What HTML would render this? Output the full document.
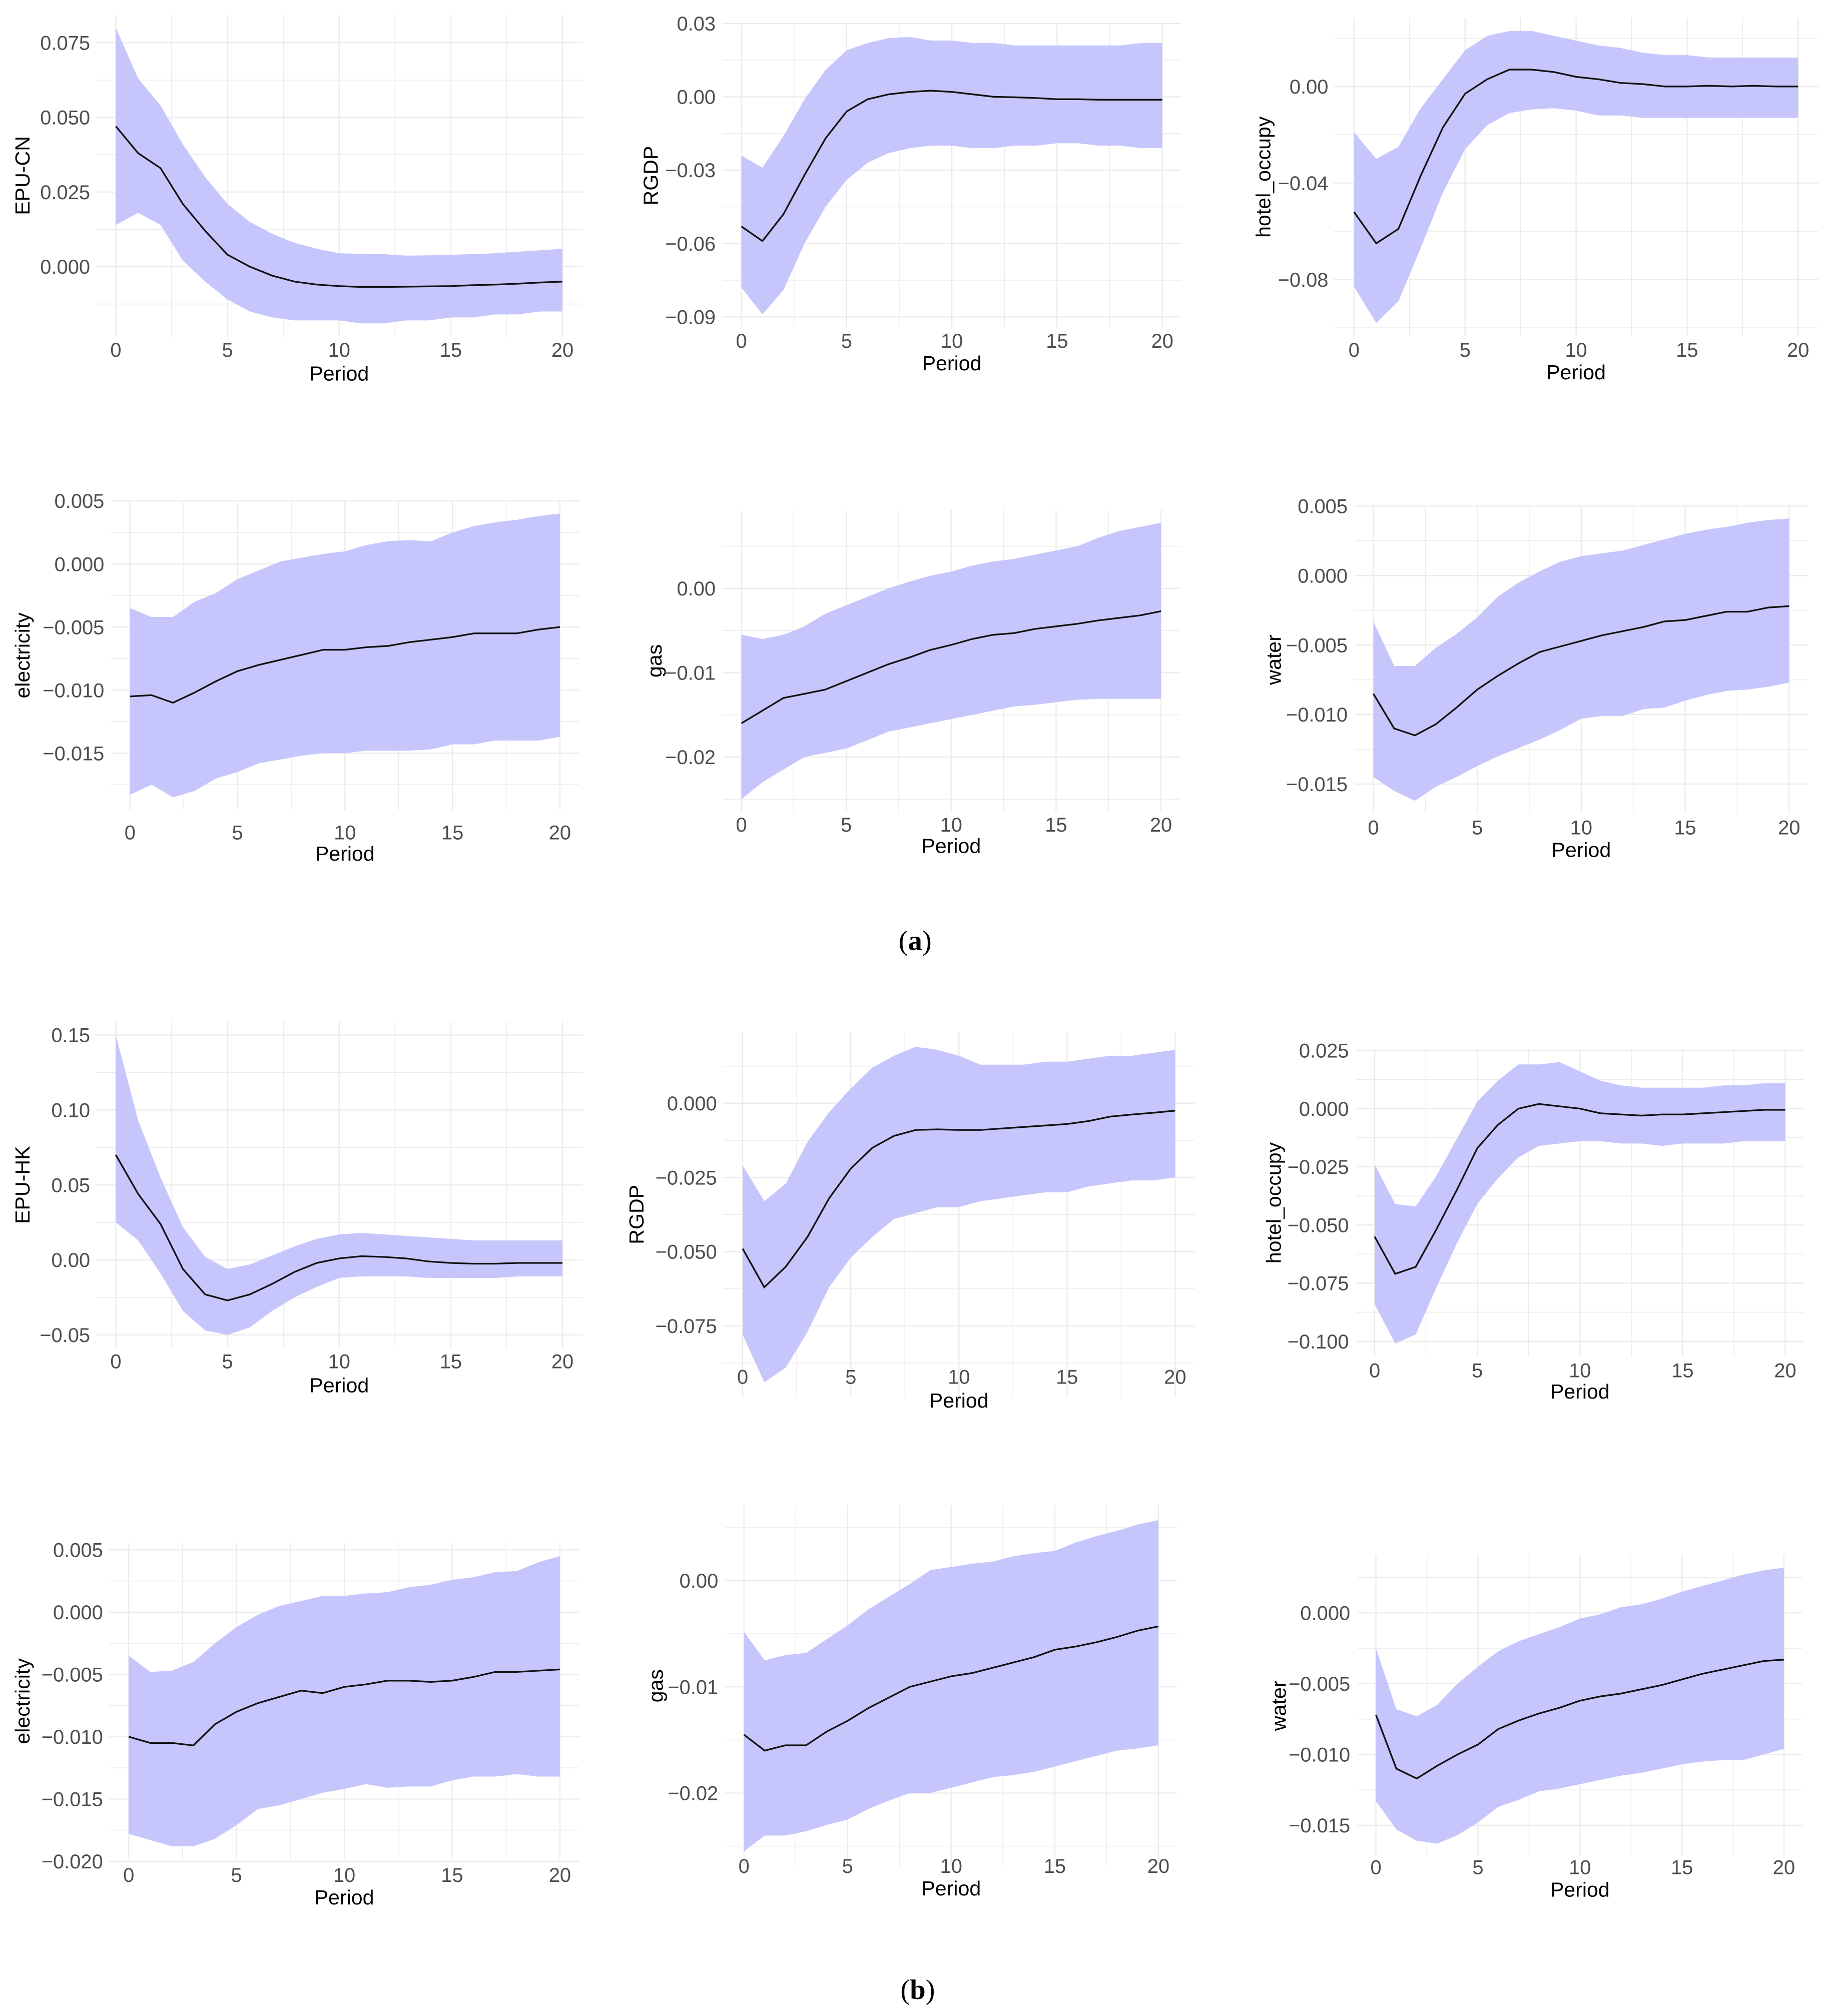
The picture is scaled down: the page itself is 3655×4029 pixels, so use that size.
<!DOCTYPE html>
<html><head><meta charset="utf-8">
<style>
html,body{margin:0;padding:0;background:#fff;}
svg{display:block;}
text{font-family:"Liberation Sans",Arial,sans-serif;}
text.serif{font-family:"Liberation Serif",serif;}
</style></head>
<body>
<svg id="fig" width="3655" height="4029" viewBox="0 0 1421 1566" xmlns="http://www.w3.org/2000/svg">
<text class="serif" x="711" y="738" text-anchor="middle" font-size="22" fill="#000">(<tspan font-weight="bold">a</tspan>)</text>
<text class="serif" x="713" y="1553" text-anchor="middle" font-size="22" fill="#000">(<tspan font-weight="bold">b</tspan>)</text>
</svg>
<script>
// ---- data arrays (periods 0..20) ----
const periods = [0,1,2,3,4,5,6,7,8,9,10,11,12,13,14,15,16,17,18,19,20];
const xTicks = [0,5,10,15,20];

const a1Mean = [.047,.038,.033,.021,.012,.004,.000,-.003,-.005,-.006,-.0065,-.0068,-.0068,-.0067,-.0066,-.0065,-.0062,-.006,-.0057,-.0053,-.005];
const a1Up   = [.080,.063,.054,.041,.030,.021,.015,.011,.008,.006,.0045,.0043,.0042,.0037,.0038,.004,.0042,.0045,.005,.0055,.006];
const a1Lo   = [.014,.018,.014,.002,-.005,-.011,-.015,-.017,-.018,-.018,-.018,-.019,-.019,-.018,-.018,-.017,-.017,-.016,-.016,-.015,-.015];
const a1Ticks = [0.075,0.050,0.025,0.000];
const a1Labels = ["0.075","0.050","0.025","0.000"];

const a2Mean = [-.053,-.059,-.048,-.032,-.017,-.006,-.001,.001,.002,.0025,.002,.001,0,-.0002,-.0005,-.001,-.001,-.0012,-.0012,-.0012,-.0012];
const a2Up   = [-.024,-.029,-.016,-.001,.011,.019,.022,.024,.0245,.023,.023,.022,.022,.021,.021,.021,.021,.021,.021,.022,.022];
const a2Lo   = [-.078,-.089,-.079,-.06,-.045,-.034,-.027,-.023,-.021,-.020,-.020,-.021,-.021,-.020,-.020,-.019,-.019,-.020,-.020,-.021,-.021];
const a2Ticks = [0.03,0.00,-0.03,-0.06,-0.09];
const a2Labels = ["0.03","0.00","−0.03","−0.06","−0.09"];

const a3Mean = [-.052,-.065,-.059,-.037,-.017,-.003,.003,.007,.007,.006,.004,.003,.0015,.001,0,0,.0003,0,.0003,0,0];
const a3Up   = [-.019,-.030,-.025,-.009,.003,.015,.021,.023,.023,.021,.019,.017,.016,.014,.013,.013,.012,.012,.012,.012,.012];
const a3Lo   = [-.083,-.098,-.089,-.067,-.044,-.026,-.016,-.011,-.0095,-.009,-.010,-.012,-.012,-.013,-.013,-.013,-.013,-.013,-.013,-.013,-.013];
const a3Ticks = [0.00,-0.04,-0.08];
const a3Labels = ["0.00","−0.04","−0.08"];

const a4Mean = [-.0105,-.0104,-.011,-.0102,-.0093,-.0085,-.008,-.0076,-.0072,-.0068,-.0068,-.0066,-.0065,-.0062,-.006,-.0058,-.0055,-.0055,-.0055,-.0052,-.005];
const a4Up   = [-.0035,-.0042,-.0042,-.003,-.0023,-.0012,-.0005,.0002,.0005,.0008,.001,.0015,.0018,.0019,.0018,.0025,.003,.0033,.0035,.0038,.004];
const a4Lo   = [-.0183,-.0175,-.0185,-.018,-.017,-.0165,-.0158,-.0155,-.0152,-.015,-.015,-.0148,-.0148,-.0148,-.0147,-.0143,-.0143,-.014,-.014,-.014,-.0137];
const a4Ticks = [0.005,0.000,-0.005,-0.010,-0.015];
const a4Labels = ["0.005","0.000","−0.005","−0.010","−0.015"];

const a5Mean = [-.016,-.0145,-.013,-.0125,-.012,-.011,-.010,-.009,-.0082,-.0073,-.0067,-.006,-.0055,-.0053,-.0048,-.0045,-.0042,-.0038,-.0035,-.0032,-.0027];
const a5Up   = [-.0055,-.006,-.0055,-.0045,-.003,-.002,-.001,0,.0008,.0015,.002,.0027,.0032,.0035,.004,.0045,.005,.006,.0068,.0073,.0078];
const a5Lo   = [-.025,-.023,-.0215,-.020,-.0195,-.019,-.018,-.017,-.0165,-.016,-.0155,-.015,-.0145,-.014,-.0138,-.0135,-.0132,-.0131,-.0131,-.0131,-.0131];
const a5Ticks = [0.00,-0.01,-0.02];
const a5Labels = ["0.00","−0.01","−0.02"];

const a6Mean = [-.0085,-.011,-.0115,-.0107,-.0095,-.0082,-.0072,-.0063,-.0055,-.0051,-.0047,-.0043,-.004,-.0037,-.0033,-.0032,-.0029,-.0026,-.0026,-.0023,-.0022];
const a6Up   = [-.0033,-.0065,-.0065,-.0052,-.0042,-.003,-.0015,-.0005,.0003,.001,.0014,.0016,.0018,.0022,.0026,.003,.0033,.0035,.0038,.004,.0041];
const a6Lo   = [-.0145,-.0155,-.0162,-.0152,-.0145,-.0137,-.013,-.0124,-.0118,-.0111,-.0103,-.0101,-.0101,-.0096,-.0095,-.009,-.0086,-.0083,-.0082,-.008,-.0077];
const a6Ticks = [0.005,0.000,-0.005,-0.010,-0.015];
const a6Labels = ["0.005","0.000","−0.005","−0.010","−0.015"];

const b1Mean = [.070,.044,.024,-.006,-.023,-.027,-.023,-.016,-.008,-.002,.001,.0025,.002,.001,-.001,-.002,-.0025,-.0025,-.002,-.002,-.002];
const b1Up   = [.15,.093,.055,.022,.002,-.006,-.003,.003,.009,.014,.017,.018,.017,.016,.015,.014,.013,.013,.013,.013,.013];
const b1Lo   = [.025,.013,-.009,-.034,-.047,-.05,-.045,-.034,-.025,-.018,-.012,-.011,-.011,-.011,-.012,-.012,-.012,-.012,-.011,-.011,-.011];
const b1Ticks = [0.15,0.10,0.05,0.00,-0.05];
const b1Labels = ["0.15","0.10","0.05","0.00","−0.05"];

const b2Mean = [-.049,-.062,-.055,-.045,-.032,-.022,-.015,-.011,-.009,-.0088,-.009,-.009,-.0085,-.008,-.0075,-.007,-.006,-.0045,-.0038,-.0032,-.0025];
const b2Up   = [-.021,-.033,-.027,-.013,-.003,.005,.012,.016,.019,.018,.016,.013,.013,.013,.014,.014,.015,.016,.016,.017,.018];
const b2Lo   = [-.078,-.094,-.089,-.077,-.062,-.052,-.045,-.039,-.037,-.035,-.035,-.033,-.032,-.031,-.030,-.030,-.028,-.027,-.026,-.026,-.025];
const b2Ticks = [0.000,-0.025,-0.050,-0.075];
const b2Labels = ["0.000","−0.025","−0.050","−0.075"];

const b3Mean = [-.055,-.071,-.068,-.052,-.035,-.017,-.007,0,.002,.001,0,-.002,-.0025,-.003,-.0025,-.0025,-.002,-.0015,-.001,-.0005,-.0005];
const b3Up   = [-.024,-.041,-.042,-.029,-.013,.003,.012,.019,.019,.020,.016,.012,.010,.009,.009,.009,.009,.010,.010,.011,.011];
const b3Lo   = [-.084,-.101,-.097,-.077,-.058,-.041,-.030,-.021,-.016,-.015,-.014,-.014,-.015,-.015,-.016,-.015,-.015,-.015,-.014,-.014,-.014];
const b3Ticks = [0.025,0.000,-0.025,-0.050,-0.075,-0.100];
const b3Labels = ["0.025","0.000","−0.025","−0.050","−0.075","−0.100"];

const b4Mean = [-.010,-.0105,-.0105,-.0107,-.009,-.008,-.0073,-.0068,-.0063,-.0065,-.006,-.0058,-.0055,-.0055,-.0056,-.0055,-.0052,-.0048,-.0048,-.0047,-.0046];
const b4Up   = [-.0035,-.0048,-.0047,-.004,-.0025,-.0012,-.0002,.0005,.0009,.0013,.0013,.0015,.0016,.002,.0022,.0026,.0028,.0032,.0033,.004,.0045];
const b4Lo   = [-.0178,-.0183,-.0188,-.0188,-.0182,-.0171,-.0158,-.0155,-.015,-.0145,-.0142,-.0138,-.0141,-.014,-.014,-.0135,-.0132,-.0132,-.013,-.0132,-.0132];
const b4Ticks = [0.005,0.000,-0.005,-0.010,-0.015,-0.020];
const b4Labels = ["0.005","0.000","−0.005","−0.010","−0.015","−0.020"];

const b5Mean = [-.0145,-.016,-.0155,-.0155,-.0142,-.0132,-.012,-.011,-.010,-.0095,-.009,-.0087,-.0082,-.0077,-.0072,-.0065,-.0062,-.0058,-.0053,-.0047,-.0043];
const b5Up   = [-.0048,-.0075,-.007,-.0068,-.0055,-.0042,-.0027,-.0015,-.0003,.001,.0013,.0016,.0018,.0023,.0026,.0028,.0036,.0042,.0047,.0053,.0057];
const b5Lo   = [-.0255,-.024,-.024,-.0236,-.023,-.0225,-.0215,-.0207,-.02,-.02,-.0195,-.019,-.0185,-.0183,-.018,-.0175,-.017,-.0165,-.016,-.0158,-.0155];
const b5Ticks = [0.00,-0.01,-0.02];
const b5Labels = ["0.00","−0.01","−0.02"];

const b6Mean = [-.0072,-.011,-.0117,-.0108,-.010,-.0093,-.0082,-.0076,-.0071,-.0067,-.0062,-.0059,-.0057,-.0054,-.0051,-.0047,-.0043,-.004,-.0037,-.0034,-.0033];
const b6Up   = [-.0025,-.0068,-.0073,-.0065,-.005,-.0038,-.0027,-.002,-.0015,-.001,-.0004,-.0001,.0004,.0006,.001,.0015,.0019,.0023,.0027,.003,.0032];
const b6Lo   = [-.0133,-.0153,-.0161,-.0163,-.0157,-.0148,-.0137,-.0132,-.0126,-.0124,-.0121,-.0118,-.0115,-.0113,-.011,-.0107,-.0105,-.0104,-.0104,-.01,-.0096];
const b6Ticks = [0.000,-0.005,-0.010,-0.015];
const b6Labels = ["0.000","−0.005","−0.010","−0.015"];

// ---- layout (pixel calibration per panel) ----
const panels = [
 {id:'a-epu-cn',title:'EPU-CN',mean:a1Mean,up:a1Up,lo:a1Lo,ticks:a1Ticks,labels:a1Labels,px0:90,px20:437,va:0.075,ya:33,vb:0,yb:207,tx:18,xtY:272,perY:290},
 {id:'a-rgdp',title:'RGDP',mean:a2Mean,up:a2Up,lo:a2Lo,ticks:a2Ticks,labels:a2Labels,px0:576,px20:903,va:0.03,ya:18,vb:-0.09,yb:246,tx:506,xtY:265,perY:282},
 {id:'a-hotel',title:'hotel_occupy',mean:a3Mean,up:a3Up,lo:a3Lo,ticks:a3Ticks,labels:a3Labels,px0:1052,px20:1397,va:0,ya:67,vb:-0.08,yb:217,tx:982,xtY:272,perY:289},
 {id:'a-electricity',title:'electricity',mean:a4Mean,up:a4Up,lo:a4Lo,ticks:a4Ticks,labels:a4Labels,px0:101,px20:435,va:0.005,ya:389,vb:-0.015,yb:585,tx:18,xtY:647,perY:663},
 {id:'a-gas',title:'gas',mean:a5Mean,up:a5Up,lo:a5Lo,ticks:a5Ticks,labels:a5Labels,px0:576,px20:902,va:0,ya:457,vb:-0.02,yb:588,tx:509,xtY:641,perY:657},
 {id:'a-water',title:'water',mean:a6Mean,up:a6Up,lo:a6Lo,ticks:a6Ticks,labels:a6Labels,px0:1067,px20:1390,va:0.005,ya:393,vb:-0.015,yb:609,tx:990,xtY:643,perY:660},
 {id:'b-epu-hk',title:'EPU-HK',mean:b1Mean,up:b1Up,lo:b1Lo,ticks:b1Ticks,labels:b1Labels,px0:90,px20:437,va:0.15,ya:804,vb:-0.05,yb:1037,tx:18,xtY:1058,perY:1076},
 {id:'b-rgdp',title:'RGDP',mean:b2Mean,up:b2Up,lo:b2Lo,ticks:b2Ticks,labels:b2Labels,px0:577,px20:913,va:0,ya:857,vb:-0.075,yb:1030,tx:495,xtY:1070,perY:1088},
 {id:'b-hotel',title:'hotel_occupy',mean:b3Mean,up:b3Up,lo:b3Lo,ticks:b3Ticks,labels:b3Labels,px0:1068,px20:1387,va:0.025,ya:816,vb:-0.1,yb:1042,tx:990,xtY:1065,perY:1081},
 {id:'b-electricity',title:'electricity',mean:b4Mean,up:b4Up,lo:b4Lo,ticks:b4Ticks,labels:b4Labels,px0:100,px20:435,va:0.005,ya:1204,vb:-0.02,yb:1446,tx:18,xtY:1457,perY:1474},
 {id:'b-gas',title:'gas',mean:b5Mean,up:b5Up,lo:b5Lo,ticks:b5Ticks,labels:b5Labels,px0:578,px20:900,va:0,ya:1228,vb:-0.02,yb:1393,tx:510,xtY:1450,perY:1467},
 {id:'b-water',title:'water',mean:b6Mean,up:b6Up,lo:b6Lo,ticks:b6Ticks,labels:b6Labels,px0:1069,px20:1386,va:0,ya:1253,vb:-0.015,yb:1418,tx:994,xtY:1451,perY:1468}
];

const NS='http://www.w3.org/2000/svg';
const svg=document.getElementById('fig');
function mk(tag,attrs,parent){const e=document.createElementNS(NS,tag);for(const k in attrs)e.setAttribute(k,attrs[k]);parent.appendChild(e);return e;}

panels.forEach(p=>{
  const g=mk('g',{},svg);
  
  
  const xs=v=>p.px0+(p.px20-p.px0)*v/20;
  const ys=v=>p.ya+(p.yb-p.ya)*(v-p.va)/(p.vb-p.va);
  const all=p.up.concat(p.lo);
  const yTop=ys(Math.max(...all)), yBot=ys(Math.min(...all));
  const padY=(yBot-yTop)*0.045, padX=(p.px20-p.px0)*0.045;
  const L=p.px0-padX, R=p.px20+padX, T=yTop-padY, B=yBot+padY;
  const step=p.ticks[0]-p.ticks[1];
  const minor=[];
  for(let v=p.ticks[0]+step/2; v>=p.ticks[p.ticks.length-1]-step; v-=step/2){minor.push(v);}
  minor.forEach(v=>{const y=ys(v); if(y>=T-0.5&&y<=B+0.5){const l=mk('line',{x1:L,x2:R,y1:y,y2:y,stroke:'#ebebeb','stroke-width':0.6},g);
    
    }});
  for(let v=-2.5; v<=22.5; v+=2.5){const x=xs(v); if(x>=L-0.5&&x<=R+0.5){const l=mk('line',{x1:x,x2:x,y1:T,y2:B,stroke:'#ebebeb','stroke-width':(v%5===0)?0.9:0.6},g);
    
    }}
  p.ticks.forEach(v=>{const y=ys(v);const l=mk('line',{x1:L,x2:R,y1:y,y2:y,stroke:'#ebebeb','stroke-width':0.9},g);
    
    });
  let d='M'+periods.map(i=>xs(i)+','+ys(p.up[i])).join(' L');
  d+=' L'+periods.slice().reverse().map(i=>xs(i)+','+ys(p.lo[i])).join(' L')+' Z';
  const band=mk('path',{d:d,fill:'#c6c6fd',stroke:'none'},g);
  
  
  const line=mk('polyline',{points:periods.map(i=>xs(i)+','+ys(p.mean[i])).join(' '),fill:'none',stroke:'#111','stroke-width':1.3},g);
  
  
  p.ticks.forEach((v,i)=>{const t=mk('text',{x:p.px0-20,y:ys(v)+5.5,'text-anchor':'end','font-size':15.5,fill:'#4d4d4d'},g);t.textContent=p.labels[i];
    
    });
  xTicks.forEach(v=>{const t=mk('text',{x:xs(v),y:p.xtY+5,'text-anchor':'middle','font-size':15.5,fill:'#4d4d4d'},g);t.textContent=String(v);
    
    });
  const xt=mk('text',{x:(p.px0+p.px20)/2,y:p.perY+5.5,'text-anchor':'middle','font-size':16,fill:'#000'},g);xt.textContent='Period';
  
  
  const cy=(T+B)/2;
  const yt=mk('text',{x:p.tx,y:cy,'text-anchor':'middle','font-size':16,fill:'#000',transform:'rotate(-90 '+p.tx+' '+cy+')',dy:5},g);yt.textContent=p.title;
  
  
});
</script>
</body></html>
